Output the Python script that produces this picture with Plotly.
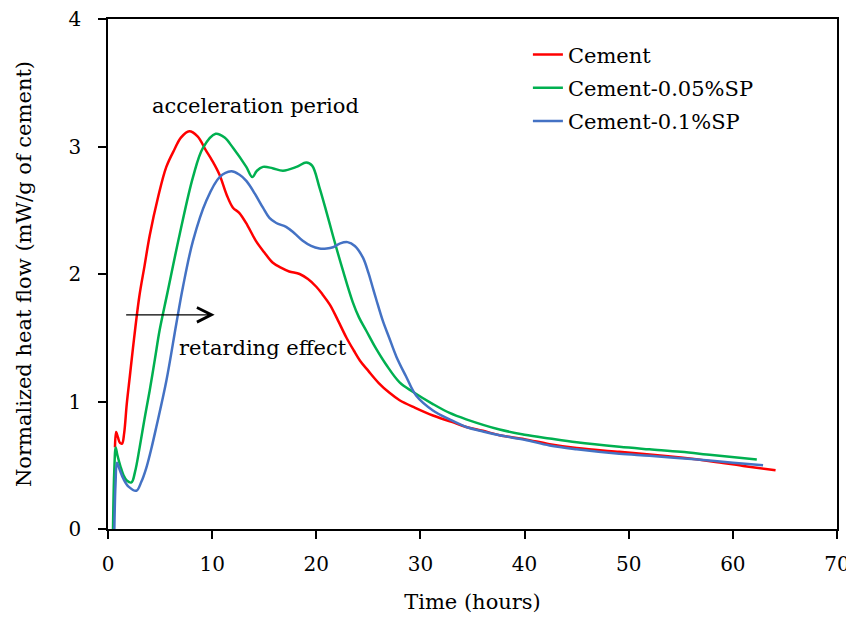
import plotly.graph_objects as go

# ---------------- data ----------------
cement_x = [0.67, 0.78, 0.95, 1.15, 1.35, 1.55, 1.8, 2.1, 2.4, 3.0, 3.5, 4.0, 4.8, 5.6, 6.4, 7.0, 7.8,
            8.6, 9.4, 10.0, 10.7, 11.4, 12.0, 12.6, 13.4, 14.2, 15.0, 15.8, 16.6, 17.4, 18.4, 19.2,
            20.0, 20.6, 21.3, 22.0, 22.9, 23.6, 24.2, 25.0, 26.0, 27.0, 28.0, 29.5, 31.2, 33.0, 34.4,
            36.0, 37.6, 40.0, 42.4, 45.0, 49.1, 52.0, 55.0, 58.0, 61.0, 64.1]
cement_y = [0.64, 0.76, 0.72, 0.675, 0.67, 0.75, 0.98, 1.20, 1.42, 1.82, 2.06, 2.30, 2.60, 2.84, 2.98, 3.07, 3.12,
            3.08, 2.97, 2.89, 2.78, 2.62, 2.52, 2.48, 2.38, 2.26, 2.17, 2.09, 2.05, 2.02, 2.00, 1.96,
            1.90, 1.84, 1.76, 1.65, 1.50, 1.40, 1.32, 1.24, 1.145, 1.07, 1.01, 0.95, 0.89, 0.84, 0.80,
            0.77, 0.735, 0.705, 0.665, 0.635, 0.605, 0.585, 0.56, 0.53, 0.495, 0.46]

sp005_x = [0.48, 0.6, 0.74, 0.9, 1.2, 1.5, 1.8, 2.25, 2.6, 3.04, 3.5, 4.0, 4.5, 4.96, 5.7, 6.88, 8.16,
           9.12, 10.34, 11.2, 12.0, 13.28, 13.86, 14.3, 14.88, 15.8, 16.8, 18.1, 19.04, 19.6, 20.3,
           21.0, 21.6, 22.55, 23.5, 24.1, 24.8, 25.7, 26.7, 28.0, 29.3, 31.2, 32.8, 34.4, 37.6, 40.0,
           42.4, 45.0, 49.1, 52.0, 55.0, 58.0, 62.3]
sp005_y = [0.0, 0.45, 0.64, 0.58, 0.49, 0.42, 0.38, 0.365, 0.45, 0.64, 0.86, 1.085, 1.33, 1.56, 1.85, 2.31, 2.76,
           2.99, 3.10, 3.07, 2.99, 2.84, 2.76, 2.81, 2.84, 2.83, 2.81, 2.84, 2.875, 2.85, 2.68,
           2.48, 2.30, 2.03, 1.78, 1.66, 1.555, 1.42, 1.29, 1.15, 1.075, 0.98, 0.91, 0.86, 0.78, 0.74,
           0.71, 0.68, 0.645, 0.625, 0.605, 0.58, 0.545]

sp01_x = [0.61, 0.72, 0.86, 1.1, 1.5, 2.0, 2.72, 3.2, 3.68, 4.16, 4.64, 5.6, 6.56, 7.2, 8.16, 9.44,
          10.72, 11.84, 12.6, 13.28, 14.1, 14.88, 15.5, 16.16, 17.1, 17.9, 18.7, 19.5, 20.3, 21.0,
          21.6, 22.3, 23.0, 23.7, 24.47, 25.0, 25.4, 25.76, 26.4, 27.0, 27.7, 28.6, 29.6, 31.2,
          32.8, 34.4, 36.0, 37.6, 40.0, 42.4, 45.0, 49.1, 52.0, 55.0, 58.0, 60.0, 62.9]
sp01_y = [0.0, 0.35, 0.52, 0.47, 0.39, 0.33, 0.30, 0.37, 0.48, 0.63, 0.80, 1.16, 1.61, 1.90, 2.26, 2.575,
          2.76, 2.805, 2.78, 2.73, 2.63, 2.52, 2.44, 2.40, 2.37, 2.32, 2.26, 2.22, 2.20, 2.20,
          2.21, 2.24, 2.25, 2.22, 2.13, 2.01, 1.90, 1.80, 1.63, 1.50, 1.35, 1.20, 1.045, 0.93,
          0.86, 0.80, 0.765, 0.735, 0.70, 0.655, 0.625, 0.59, 0.575, 0.555, 0.535, 0.52, 0.50]

series_names = ["Cement", "Cement-0.05%SP", "Cement-0.1%SP"]
series_colors = ["#FF0000", "#00B050", "#4472C4"]

x_ticks = [0, 10, 20, 30, 40, 50, 60, 70]
y_ticks = [0, 1, 2, 3, 4]

FONT = "DejaVu Serif"

fig = go.Figure()
for i, (name, xs, ys, col) in enumerate(zip(series_names, [cement_x, sp005_x, sp01_x],
                                            [cement_y, sp005_y, sp01_y], series_colors)):
    fig.add_trace(go.Scatter(x=xs, y=ys, mode="lines", name=name, legendgroup=f"g{i}",
                             line=dict(color=col, width=2.5, shape="spline", smoothing=1.0)))

axis_common = dict(showgrid=False, zeroline=False, showline=True, linecolor="black", linewidth=1.5,
                   mirror=True, ticks="outside", ticklen=8, tickwidth=1.5, tickcolor="black",
                   automargin=False, ticklabeloverflow="allow",
                   tickfont=dict(family=FONT, size=20, color="black"))

fig.update_xaxes(range=[0, 70], tickvals=x_ticks, ticktext=[str(v) for v in x_ticks],
                 ticklabelstandoff=8,
                 title=dict(text="Time (hours)", font=dict(family=FONT, size=21, color="black"), standoff=23),
                 **axis_common)
fig.update_yaxes(range=[0, 4], tickvals=y_ticks, ticktext=[str(v) for v in y_ticks],
                 ticklabelstandoff=13,
                 title=dict(text="Normalized heat flow (mW/g of cement)",
                            font=dict(family=FONT, size=21, color="black"), standoff=31),
                 **axis_common)

fig.add_annotation(x=14.17, y=3.32, xref="x", yref="y", text="acceleration period", showarrow=False,
                   font=dict(family=FONT, size=21, color="black"))
fig.add_annotation(x=14.85, y=1.42, xref="x", yref="y", text="retarding effect", showarrow=False,
                   font=dict(family=FONT, size=21, color="black"))
fig.add_annotation(x=10.24, y=1.68, ax=1.6, ay=1.68, xref="x", yref="y", axref="x", ayref="y",
                   text="", showarrow=True, arrowhead=5, arrowsize=2.2, arrowwidth=1.3, arrowcolor="black")

fig.update_layout(
    width=846, height=606,
    margin=dict(l=100, r=17, t=11, b=85),
    plot_bgcolor="white", paper_bgcolor="white",
    font=dict(family=FONT, color="black"),
    legend=dict(x=0.576, y=0.97, xanchor="left", yanchor="top", bgcolor="rgba(0,0,0,0)",
                font=dict(family=FONT, size=21, color="black"), tracegroupgap=3, itemwidth=30),
    showlegend=True,
)

fig.write_html("out.html")
